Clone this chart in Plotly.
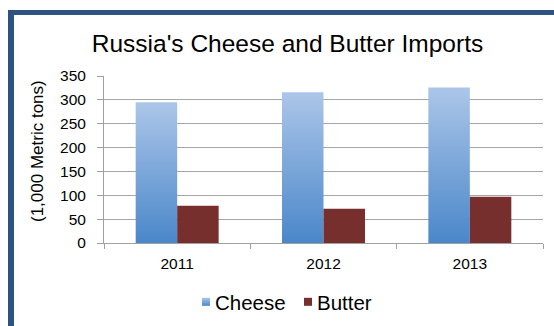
import plotly.graph_objects as go

# ---- data ----
years = ["2011", "2012", "2013"]
cheese = [295, 316, 326]
butter = [78, 72, 97]
y_ticks = [0, 50, 100, 150, 200, 250, 300, 350]

W, H = 554, 326
L, R, T, B = 104, 11, 76, 83
PW, PH = W - L - R, H - T - B
FONT = "Liberation Sans, Arial, sans-serif"

def px_x(x):
    return (x - L) / PW

def px_y(y):
    return (H - B - y) / PH

fig = go.Figure()
fig.add_trace(go.Bar(x=years, y=cheese, name="Cheese", marker=dict(color="#7BA6DA", line=dict(width=0))))
fig.add_trace(go.Bar(x=years, y=butter, name="Butter", marker=dict(color="#772F2D", line=dict(width=0))))

frame = "#2E5380"
fig.update_layout(
    width=W, height=H,
    margin=dict(l=L, r=R, t=T, b=B, pad=0, autoexpand=False),
    paper_bgcolor="white", plot_bgcolor="white",
    barmode="group", bargap=0.433, bargroupgap=0,
    font=dict(family=FONT, color="#000000"),
    title=dict(text="Russia's Cheese and Butter Imports", x=287.5 / W, xanchor="center", xref="container",
               y=1 - 43 / H, yanchor="middle", yref="container",
               font=dict(size=24.5, family=FONT, color="#000000")),
    xaxis=dict(showgrid=False, showline=True, linecolor="#A0A0A0", linewidth=1,
               ticks="outside", tickson="boundaries", ticklen=5, tickcolor="#A0A0A0",
               tickfont=dict(size=15.5, family=FONT, color="#000000"), ticklabelstandoff=6,
               automargin=False),
    yaxis=dict(range=[0, 350], tickvals=y_ticks, showgrid=True, gridcolor="#A6A6A6", gridwidth=1,
               showline=True, linecolor="#A0A0A0", linewidth=1, zeroline=False,
               ticks="outside", ticklen=6, tickcolor="#A0A0A0",
               tickfont=dict(size=15.5, family=FONT, color="#000000"), ticklabelstandoff=8,
               automargin=False),
    legend=dict(orientation="h", xref="container", yref="container",
                x=175 / W, xanchor="left", y=1 - 302 / H, yanchor="middle",
                entrywidth=57,
                font=dict(size=20.5, family=FONT, color="#000000"), bgcolor="rgba(0,0,0,0)"),
    showlegend=True,
    hovermode=False,
)

fig.add_annotation(text="(1,000 Metric tons)", textangle=-90, xref="paper", yref="paper",
                   x=px_x(37), y=px_y(151), xanchor="center", yanchor="middle", showarrow=False,
                   font=dict(size=17, family=FONT, color="#000000"))

# frame (left and top borders)
fig.add_shape(type="rect", xref="paper", yref="paper", x0=px_x(8), x1=px_x(14), y0=px_y(H + 5), y1=px_y(10),
              fillcolor=frame, line=dict(width=0), layer="above")
fig.add_shape(type="rect", xref="paper", yref="paper", x0=px_x(8), x1=px_x(W + 5), y0=px_y(15), y1=px_y(10),
              fillcolor=frame, line=dict(width=0), layer="above")

post = """
document.body.style.margin = '0';
document.body.style.padding = '0';
var gd = document.getElementById('{plot_id}');
function applyGrad(){
  var svg = gd.querySelector('svg.main-svg');
  if(!svg) return;
  var ns = 'http://www.w3.org/2000/svg';
  if(!document.getElementById('cheeseGrad')){
    var defs = svg.querySelector('defs');
    if(!defs){ defs = document.createElementNS(ns,'defs'); svg.insertBefore(defs, svg.firstChild); }
    var lg = document.createElementNS(ns,'linearGradient');
    lg.setAttribute('id','cheeseGrad');
    lg.setAttribute('x1','0'); lg.setAttribute('y1','0'); lg.setAttribute('x2','0'); lg.setAttribute('y2','1');
    var s1 = document.createElementNS(ns,'stop'); s1.setAttribute('offset','0'); s1.setAttribute('stop-color','#ACC6E9');
    var s2 = document.createElementNS(ns,'stop'); s2.setAttribute('offset','1'); s2.setAttribute('stop-color','#4A87C9');
    lg.appendChild(s1); lg.appendChild(s2); defs.appendChild(lg);
  }
  var tr = gd.querySelectorAll('.barlayer .trace.bars');
  if(tr.length) tr[0].querySelectorAll('path').forEach(function(p){ p.style.fill = 'url(#cheeseGrad)'; });
  var lt = gd.querySelectorAll('.legend .traces');
  lt.forEach(function(t, i){
    t.querySelectorAll('.legendpoints path').forEach(function(p){
      p.setAttribute('d', 'M15,4H7V-4H15Z');
      if(i === 0) p.style.fill = 'url(#cheeseGrad)';
    });
  });
}
applyGrad();
gd.on('plotly_afterplot', applyGrad);
"""

fig.write_html("out.html", post_script=post, config={"displayModeBar": False, "staticPlot": True})
